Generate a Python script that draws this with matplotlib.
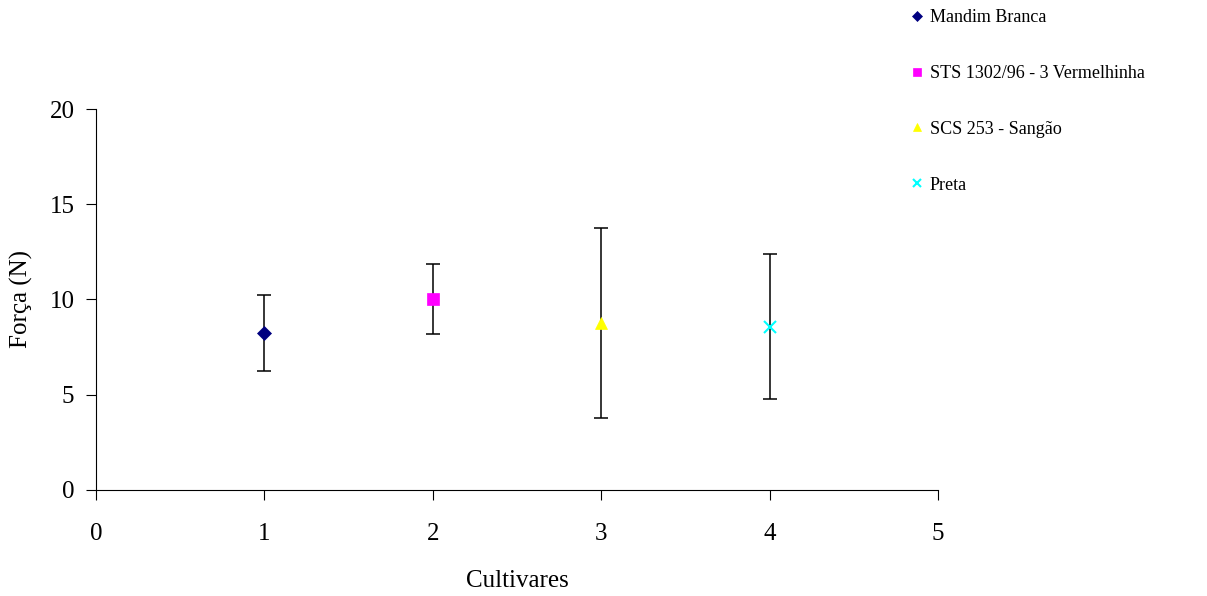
import matplotlib.pyplot as plt

# data
cultivares = ["Mandim Branca", "STS 1302/96 - 3 Vermelhinha", "SCS 253 - Sangão", "Preta"]
x_pos = [1, 2, 3, 4]
forca = [8.24, 10.03, 8.77, 8.57]
erro = [2.0, 1.83, 4.97, 3.81]

markers = ["D", "s", "^", "x"]
colors = ["#000080", "#FF00FF", "#FFFF00", "#00FFFF"]
sizes = [7, 8, 8, 8]

plt.rcParams['font.family'] = ['Liberation Serif', 'DejaVu Serif']

fig = plt.figure(figsize=(12.07, 5.96), dpi=100)
ax = fig.add_axes([0.0795, 0.178, 0.6977, 0.639])

handles = []
for xi, yi, ei, m, c, s, lab in zip(x_pos, forca, erro, markers, colors, sizes, cultivares):
    ax.errorbar(xi, yi, yerr=ei, fmt='none', ecolor='black', elinewidth=1.1,
                capsize=5, capthick=1.1, zorder=2)
    h, = ax.plot(xi, yi, linestyle='none', marker=m, color=c, markersize=s,
                 markeredgewidth=1.5 if m == 'x' else 0.5, zorder=3, label=lab)
    handles.append(h)

ax.set_xlim(0, 5)
ax.set_ylim(0, 20)
ax.set_xticks(range(0, 6))
ax.set_yticks(range(0, 21, 5))
ax.spines['top'].set_visible(False)
ax.spines['right'].set_visible(False)
ax.tick_params(axis='x', direction='out', length=7, pad=17, labelsize=18)
ax.tick_params(axis='y', direction='out', length=7, pad=8.5, labelsize=18)
ax.set_xlabel("Cultivares", fontsize=18, labelpad=18)
ax.set_ylabel("Força (N)", fontsize=18, labelpad=12)

leg = fig.legend(handles=handles, loc='upper left', bbox_to_anchor=(0.742, 1.012),
                 frameon=False, fontsize=13, labelspacing=2.15, handlelength=0.6,
                 handletextpad=0.4, markerscale=0.7)

fig.savefig("out.png", dpi=100)
